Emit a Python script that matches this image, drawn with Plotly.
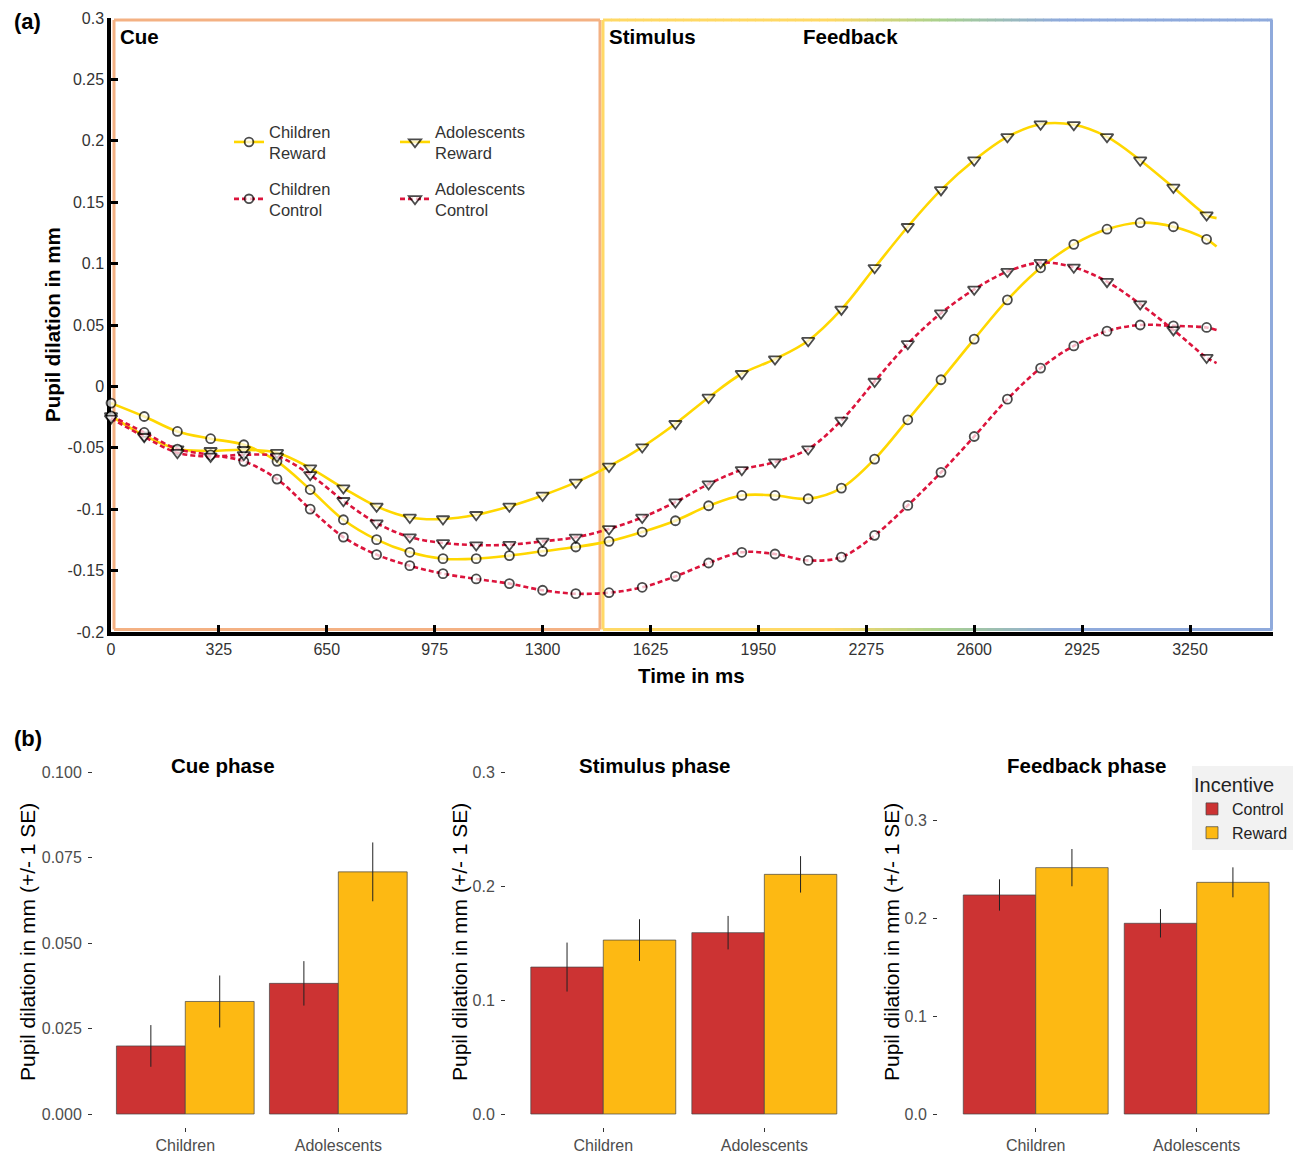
import plotly.graph_objects as go

# ---------------- DATA ----------------
time_ms = [0, 100, 200, 300, 400, 500, 600, 700, 800, 900, 1000, 1100, 1200, 1300, 1400, 1500,
           1600, 1700, 1800, 1900, 2000, 2100, 2200, 2300, 2400, 2500, 2600, 2700, 2800, 2900,
           3000, 3100, 3200, 3300, 3330]

children_reward = [-0.0136, -0.0245, -0.0367, -0.0426, -0.0475, -0.061, -0.084, -0.1086, -0.1248,
                   -0.1351, -0.1403, -0.1403, -0.1378, -0.1343, -0.1308, -0.1262, -0.1186, -0.1094,
                   -0.0972, -0.0888, -0.0888, -0.0915, -0.0828, -0.0592, -0.0272, 0.0054, 0.0385,
                   0.0705, 0.0966, 0.1157, 0.128, 0.1333, 0.130, 0.1198, 0.114]
children_control = [-0.024, -0.0375, -0.051, -0.0557, -0.061, -0.0755, -0.0999, -0.1227, -0.137,
                    -0.146, -0.1525, -0.1568, -0.1606, -0.166, -0.1688, -0.168, -0.1636, -0.1547,
                    -0.1438, -0.1351, -0.1365, -0.1417, -0.139, -0.1213, -0.0969, -0.070, -0.0408,
                    -0.0104, 0.0149, 0.033, 0.045, 0.050, 0.0493, 0.048, 0.046]
adolescents_reward = [-0.024, -0.040, -0.051, -0.0524, -0.0516, -0.054, -0.0665, -0.0828, -0.0977,
                      -0.1067, -0.108, -0.1045, -0.0977, -0.0888, -0.0782, -0.0652, -0.0494, -0.0304,
                      -0.009, 0.0103, 0.0222, 0.0372, 0.0627, 0.0966, 0.130, 0.160, 0.1842, 0.2032,
                      0.2135, 0.213, 0.2032, 0.1842, 0.162, 0.1395, 0.137]
adolescents_control = [-0.026, -0.041, -0.054, -0.057, -0.0557, -0.057, -0.072, -0.0931, -0.1113,
                       -0.1227, -0.1275, -0.1292, -0.1289, -0.1262, -0.1229, -0.1161, -0.1067, -0.0942,
                       -0.0795, -0.0679, -0.0616, -0.051, -0.0277, 0.004, 0.0347, 0.0596, 0.079,
                       0.0935, 0.1008, 0.097, 0.0853, 0.067, 0.046, 0.0235, 0.019]

top_xtick_vals = [0, 325, 650, 975, 1300, 1625, 1950, 2275, 2600, 2925, 3250]
top_xtick_text = ["0", "325", "650", "975", "1300", "1625", "1950", "2275", "2600", "2925", "3250"]
top_ytick_vals = [-0.2, -0.15, -0.1, -0.05, 0, 0.05, 0.1, 0.15, 0.2, 0.25, 0.3]
top_ytick_text = ["-0.2", "-0.15", "-0.1", "-0.05", "0", "0.05", "0.1", "0.15", "0.2", "0.25", "0.3"]

groups = ["Children", "Adolescents"]
cue_control = [0.0199, 0.0382]
cue_control_se = [0.0061, 0.0065]
cue_reward = [0.0329, 0.0708]
cue_reward_se = [0.0076, 0.0086]
stim_control = [0.1290, 0.1592]
stim_control_se = [0.0215, 0.0147]
stim_reward = [0.1527, 0.2104]
stim_reward_se = [0.0183, 0.0160]
feed_control = [0.2235, 0.1946]
feed_control_se = [0.0160, 0.0145]
feed_reward = [0.2514, 0.2364]
feed_reward_se = [0.0190, 0.0153]

cue_ytick_vals = [0.0, 0.025, 0.05, 0.075, 0.1]
cue_ytick_text = ["0.000", "0.025", "0.050", "0.075", "0.100"]
phase_ytick_vals = [0.0, 0.1, 0.2, 0.3]
phase_ytick_text = ["0.0", "0.1", "0.2", "0.3"]

# ---------------- LAYOUT HELPERS ----------------
W, H = 1298, 1155
def X(px):
    return px / W
def Y(py):
    return 1 - py / H

FONT = "Liberation Sans, Arial, sans-serif"
YELLOW = "#FFD700"
RED = "#DC143C"
BAR_RED = "#CC3333"
BAR_YEL = "#FDB913"

fig = go.Figure()

n = len(time_ms)
sizes_c = [9] * (n - 1) + [0]
sizes_t = [11] * (n - 1) + [0]

def series(name, y, color, dash, symbol, sizes, legend, group):
    fig.add_trace(go.Scatter(
        x=time_ms, y=y, name=name, mode="lines+markers",
        line=dict(color=color, width=2.6, dash=dash, shape="spline", smoothing=1.0),
        marker=dict(symbol=symbol, size=sizes, color="white", line=dict(color="black", width=1.8)),
        cliponaxis=False, legend=legend, legendgroup=group, xaxis="x", yaxis="y"))

series("Children<br>Reward", children_reward, YELLOW, "solid", "circle", sizes_c, "legend", "cr")
series("Adolescents<br>Reward", adolescents_reward, YELLOW, "solid", "triangle-down", sizes_t, "legend2", "ar")
series("Children<br>Control", children_control, RED, "5px,3px", "circle", sizes_c, "legend", "cc")
series("Adolescents<br>Control", adolescents_control, RED, "5px,3px", "triangle-down", sizes_t, "legend2", "ac")

# bar panels
panels = [
    ("x2", "y2", cue_control, cue_control_se, cue_reward, cue_reward_se, True),
    ("x3", "y3", stim_control, stim_control_se, stim_reward, stim_reward_se, False),
    ("x4", "y4", feed_control, feed_control_se, feed_reward, feed_reward_se, False),
]
for xa, ya, c, cse, r, rse, show in panels:
    fig.add_trace(go.Bar(x=groups, y=c, name="Control", marker=dict(color=BAR_RED, line=dict(color="#444444", width=0.7)),
                         error_y=dict(type="data", array=cse, width=0, thickness=1, color="#222222"),
                         xaxis=xa, yaxis=ya, legend="legend3", showlegend=show, offsetgroup="c"))
    fig.add_trace(go.Bar(x=groups, y=r, name="Reward", marker=dict(color=BAR_YEL, line=dict(color="#444444", width=0.7)),
                         error_y=dict(type="data", array=rse, width=0, thickness=1, color="#222222"),
                         xaxis=xa, yaxis=ya, legend="legend3", showlegend=show, offsetgroup="r"))

tick_font_top = dict(family=FONT, size=16, color="#333333")
tick_font_bot = dict(family=FONT, size=16, color="#4D4D4D")

layout = dict(
    width=W, height=H, margin=dict(l=0, r=0, t=0, b=0, autoexpand=False),
    paper_bgcolor="white", plot_bgcolor="rgba(0,0,0,0)",
    font=dict(family=FONT, color="#222222"),
    barmode="group", bargap=0.1, bargroupgap=0,
    xaxis=dict(domain=[X(111), X(1273)], range=[0, 3500], showgrid=False, zeroline=False,
               showline=True, linecolor="black", linewidth=3.5, ticks="inside", ticklen=7, tickwidth=2.5,
               tickcolor="black", tickvals=top_xtick_vals, ticktext=top_xtick_text,
               tickfont=tick_font_top, layer="below traces", automargin=False),
    yaxis=dict(domain=[Y(632), Y(18)], range=[-0.2, 0.3], showgrid=False, zeroline=False,
               showline=True, linecolor="black", linewidth=3.5, ticks="inside", ticklen=7, tickwidth=2.5,
               tickcolor="black", tickvals=top_ytick_vals, ticktext=top_ytick_text,
               tickfont=tick_font_top, layer="below traces", automargin=False),
)

# bottom panels: plot area from y=768 to y=1127 (px), zero at y=1114
bot_dom = [Y(1127), Y(768)]
bx = [
    ("xaxis2", "yaxis2", [X(93), X(430.6)], [-0.603, 1.603], [-13 / 3420, 346 / 3420], cue_ytick_vals, cue_ytick_text),
    ("xaxis3", "yaxis3", [X(506), X(861.6)], [-0.604, 1.604], [-13 / 1139, 346 / 1139], phase_ytick_vals, phase_ytick_text),
    ("xaxis4", "yaxis4", [X(938), X(1294.4)], [-0.607, 1.607], [-13 / 980, 346 / 980], phase_ytick_vals, phase_ytick_text),
]
for xk, yk, xd, xr, yr, tv, tt in bx:
    layout[xk] = dict(domain=xd, range=xr, anchor=yk.replace("axis", ""), showgrid=False, zeroline=False,
                      showline=False, ticks="outside", ticklen=4, tickwidth=1.2, tickcolor="#333333",
                      tickfont=tick_font_bot, type="category", automargin=False)
    layout[yk] = dict(domain=bot_dom, range=yr, anchor=xk.replace("axis", ""), showgrid=False, zeroline=False,
                      showline=False, ticks="outside", ticklen=4, tickwidth=1.2, tickcolor="#333333",
                      tickvals=tv, ticktext=tt, tickfont=tick_font_bot, automargin=False,
                      ticklabelstandoff=3)

layout["legend"] = dict(x=X(229), y=Y(114), xanchor="left", yanchor="top", bgcolor="rgba(0,0,0,0)",
                        font=dict(family=FONT, size=16.5, color="#333333"), tracegroupgap=11,
                        traceorder="grouped")
layout["legend2"] = dict(x=X(395), y=Y(114), xanchor="left", yanchor="top", bgcolor="rgba(0,0,0,0)",
                         font=dict(family=FONT, size=16.5, color="#333333"), tracegroupgap=11,
                         traceorder="grouped")
layout["legend3"] = dict(x=X(1192), y=Y(766), xanchor="left", yanchor="top", bgcolor="#F2F2F2",
                         font=dict(family=FONT, size=16, color="#222222"),
                         title=dict(text="Incentive", font=dict(family=FONT, size=20, color="#222222")),
                         traceorder="normal", itemwidth=30)

fig.update_layout(**layout)

# ---------------- PHASE BOXES ----------------
shapes = []
def line(x0, y0, x1, y1, color, w=3):
    shapes.append(dict(type="line", xref="paper", yref="paper", x0=X(x0), y0=Y(y0), x1=X(x1), y1=Y(y1),
                       line=dict(color=color, width=w), layer="below"))

ORANGE = "#F4B183"
GOLD = "#FFD966"
line(114, 20, 600, 20, ORANGE)
line(114, 629.5, 600, 629.5, ORANGE)
line(114, 20, 114, 629.5, ORANGE)
line(600, 20, 600, 629.5, ORANGE)
line(603, 20, 603, 629.5, GOLD)
line(1271.5, 20, 1271.5, 629.5, "#8FAADC")

stops = [(603, (255, 217, 102)), (830, (255, 217, 102)), (940, (169, 209, 142)),
         (1060, (143, 170, 220)), (1272, (143, 170, 220))]
def col_at(px):
    for (a, ca), (b, cb) in zip(stops[:-1], stops[1:]):
        if a <= px <= b:
            t = (px - a) / (b - a)
            return "rgb(%d,%d,%d)" % tuple(round(ca[i] + (cb[i] - ca[i]) * t) for i in range(3))
    return "rgb(143,170,220)"
seg = 8
p = 603
while p < 1272:
    q = min(p + seg, 1272)
    c = col_at((p + q) / 2)
    line(p, 20, q + 0.6, 20, c)
    line(p, 629.5, q + 0.6, 629.5, c)
    p = q
fig.update_layout(shapes=shapes)

# ---------------- TEXT ----------------
ann = []
def text(x, y, s, size, bold=False, xanchor="center", color="black", angle=0):
    ann.append(dict(x=X(x), y=Y(y), xref="paper", yref="paper", text=("<b>%s</b>" % s) if bold else s,
                    showarrow=False, xanchor=xanchor, yanchor="middle", textangle=angle,
                    font=dict(family=FONT, size=size, color=color)))

text(12, 21, "(a)", 22, True, "left")
text(12, 738, "(b)", 22, True, "left")
text(118, 36, "Cue", 20.5, True, "left")
text(607, 36, "Stimulus", 20.5, True, "left")
text(801, 36, "Feedback", 20.5, True, "left")
text(52, 325, "Pupil dilation in mm", 20.5, True, angle=-90)
text(691, 675, "Time in ms", 20.5, True)
text(223, 765, "Cue phase", 20.5, True)
text(655, 765, "Stimulus phase", 20.5, True)
text(1087, 765, "Feedback phase", 20.5, True)
for xc in (27, 459, 891):
    text(xc, 942, "Pupil dilation in mm (+/- 1 SE)", 21, False, angle=-90)
fig.update_layout(annotations=ann)

fig.write_html("out.html")
